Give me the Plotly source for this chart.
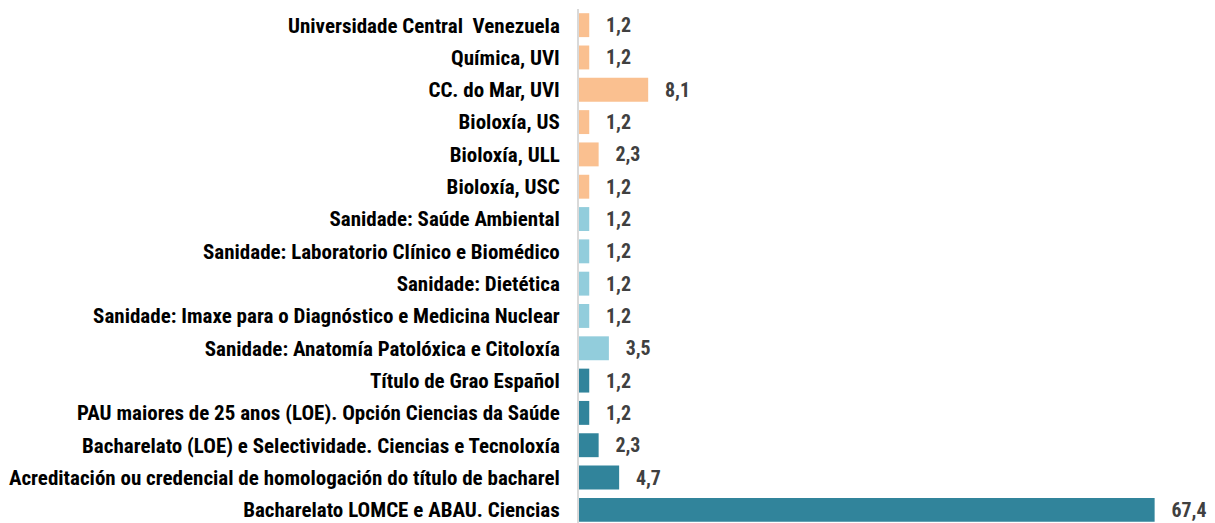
import plotly.graph_objects as go

categories = [
    "Universidade Central  Venezuela",
    "Química, UVI",
    "CC. do Mar, UVI",
    "Bioloxía, US",
    "Bioloxía, ULL",
    "Bioloxía, USC",
    "Sanidade: Saúde Ambiental",
    "Sanidade: Laboratorio Clínico e Biomédico",
    "Sanidade: Dietética",
    "Sanidade: Imaxe para o Diagnóstico e Medicina Nuclear",
    "Sanidade: Anatomía Patolóxica e Citoloxía",
    "Título de Grao Español",
    "PAU maiores de 25 anos (LOE). Opción Ciencias da Saúde",
    "Bacharelato (LOE) e Selectividade. Ciencias e Tecnoloxía",
    "Acreditación ou credencial de homologación do título de bacharel",
    "Bacharelato LOMCE e ABAU. Ciencias",
]
values = [1.2, 1.2, 8.1, 1.2, 2.3, 1.2, 1.2, 1.2, 1.2, 1.2, 3.5, 1.2, 1.2, 2.3, 4.7, 67.4]
groups = ["univ"] * 6 + ["sanidade"] * 5 + ["acceso"] * 5
group_colors = {"univ": "#FAC090", "sanidade": "#92CDDC", "acceso": "#31849B"}

# bottom-to-top order for plotly
cats_r = categories[::-1]
vals_r = values[::-1]
cols_r = [group_colors[g] for g in groups[::-1]]
labels_r = ["   " + f"{v:.1f}".replace(".", ",") for v in vals_r]

FONT = "Roboto Condensed, Arial Narrow, DejaVu Sans Condensed, sans-serif"

fig = go.Figure(go.Bar(
    y=cats_r,
    x=vals_r,
    orientation="h",
    marker=dict(color=cols_r, line=dict(width=0)),
    text=labels_r,
    textposition="outside",
    cliponaxis=False,
    textfont=dict(family=FONT, size=20, color="#404040", weight="bold"),
    hoverinfo="x+y",
))

fig.update_layout(
    width=1215,
    height=523,
    margin=dict(l=571, r=12, t=1, b=5),
    paper_bgcolor="white",
    plot_bgcolor="white",
    bargap=0.26,
    showlegend=False,
    font=dict(family=FONT, size=18, color="black"),
)
fig.update_xaxes(
    range=[0, 74],
    showgrid=False,
    zeroline=False,
    showticklabels=False,
    showline=False,
)
fig.update_yaxes(
    type="category",
    categoryorder="array",
    categoryarray=cats_r,
    range=[-0.5, 15.5],
    showgrid=False,
    zeroline=False,
    showline=True,
    linecolor="#D9D9D9",
    linewidth=2,
    ticks="",
    ticklabelstandoff=13,
    tickfont=dict(family=FONT, size=21, color="black", weight="bold"),
)

fig.write_html("out.html")
